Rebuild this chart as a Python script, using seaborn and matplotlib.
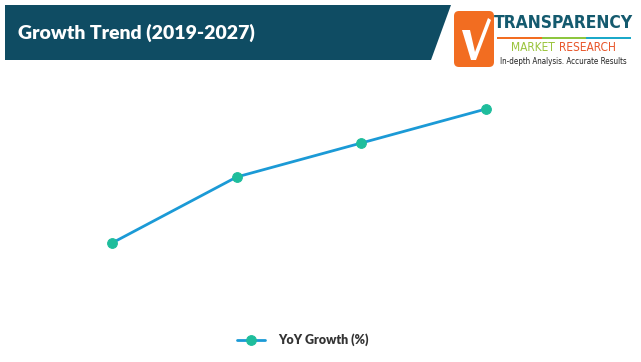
import matplotlib
matplotlib.use("Agg")
import matplotlib.pyplot as plt
import seaborn as sns
import pandas as pd
from matplotlib.patches import Polygon, FancyBboxPatch, Rectangle

# Data
periods = ["P1", "P2", "P3", "P4"]
yoy_growth = [5.7, 12.3, 15.7, 19.1]
series_label = "YoY Growth (%)"
title_text = "Growth Trend (2019-2027)"

sns.set_theme(style="white")
plt.rcParams['font.family'] = ['Lato', 'DejaVu Sans']

fig = plt.figure(figsize=(6.41, 3.62), dpi=100)
W, H = 641, 362

def fx(px):
    return px / W

def fy(py):
    return 1 - py / H

# Main axes: x from 49.7 to 548.3 px, y from 60 to 300 px
ax = fig.add_axes([fx(49.7), fy(300), fx(548.3) - fx(49.7), fy(60) - fy(300)])
df = pd.DataFrame({"period": range(len(periods)), "value": yoy_growth})
sns.lineplot(data=df, x="period", y="value", ax=ax, color="#1b9ad6", linewidth=2.0,
             marker="o", markersize=7, markerfacecolor="#1ebd9c", markeredgecolor="#1ebd9c",
             label=series_label, legend=False)
ax.set_xlim(-0.5, 3.5)
ax.set_ylim(0, 24)
ax.axis("off")

# Legend
handles, labels = ax.get_legend_handles_labels()
fig.legend(handles, labels, loc="center", bbox_to_anchor=(fx(303), fy(340)), frameon=False,
           prop={"family": ["Lato", "DejaVu Sans"], "weight": "heavy", "size": 9},
           handlelength=2.2, labelcolor="#333333", handletextpad=1.1)

# Header bar
bg = fig.add_axes([0, 0, 1, 1], zorder=-1)
bg.set_xlim(0, W)
bg.set_ylim(H, 0)
bg.axis("off")
bg.add_patch(Polygon([(5, 5), (451, 5), (431, 60), (5, 60)], closed=True,
                     facecolor="#0f4c63", edgecolor="none"))
bg.text(18, 33, title_text, color="white", fontsize=14, fontweight="heavy",
        va="center", ha="left", family=["Lato", "DejaVu Sans"])

# Logo
bg.add_patch(FancyBboxPatch((454, 11), 40, 56, boxstyle="round,pad=0,rounding_size=5",
                            facecolor="#f26d21", edgecolor="none"))
bg.add_patch(Polygon([(462, 30), (470, 30), (475, 52), (488, 18), (491, 20), (476, 60), (471, 60)],
                     closed=True, facecolor="white", edgecolor="none"))
bg.text(563, 23, "TRANSPARENCY", color="#145a6e", fontsize=12.5, fontweight="bold",
        ha="center", va="center", family=["DejaVu Sans"], stretch="condensed")
# colored stripe
stripe_cols = ["#f26d21", "#8dc63f", "#1ba9c9"]
for i, c in enumerate(stripe_cols):
    bg.add_patch(Rectangle((497 + i * 44.7, 37), 44.7, 1.6, facecolor=c, edgecolor="none"))
bg.text(555, 47.5, "MARKET", color="#9ac43c", fontsize=8.6, ha="right", va="center",
        family=["DejaVu Sans"], stretch="condensed")
bg.text(559, 47.5, "RESEARCH", color="#e8562a", fontsize=8.6, ha="left", va="center",
        family=["DejaVu Sans"], stretch="condensed")
bg.text(563, 61, "In-depth Analysis. Accurate Results", color="#222222", fontsize=5.8,
        ha="center", va="center", family=["DejaVu Sans"], stretch="condensed")

fig.savefig("out.png", dpi=100)
